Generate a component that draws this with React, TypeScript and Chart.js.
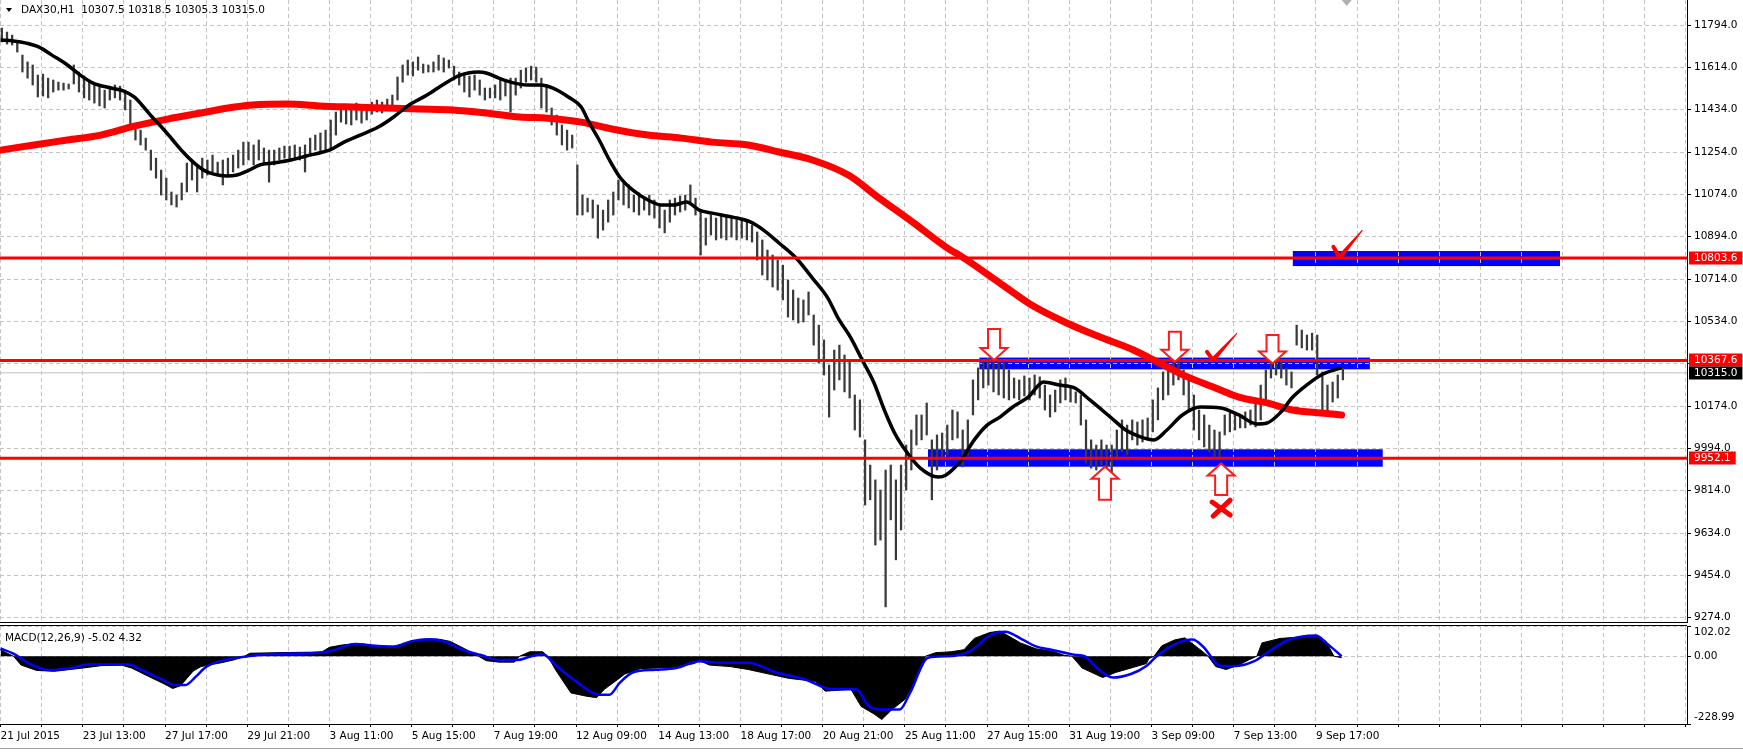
import React, { useEffect, useRef } from "react";
import { Chart, registerables } from "chart.js";

Chart.register(...registerables);

const FONT_FAMILY = "'DejaVu Sans', 'Liberation Sans', sans-serif";
const FONT_SIZE = 10.5;

// ---------- x axis: hour index of H1 bars ----------
const xTickLabels = [
  "21 Jul 2015", "23 Jul 13:00", "27 Jul 17:00", "29 Jul 21:00", "3 Aug 11:00",
  "5 Aug 15:00", "7 Aug 19:00", "12 Aug 09:00", "14 Aug 13:00", "18 Aug 17:00",
  "20 Aug 21:00", "25 Aug 11:00", "27 Aug 15:00", "31 Aug 19:00", "3 Sep 09:00",
  "7 Sep 13:00", "9 Sep 17:00",
];
const hoursPerLabel = 32;
const hoursPerGrid = 16;
const xMin = -0.23;
const xMax = 656.44;
const shiftMarkerHour = 524;

// ---------- price axis ----------
const priceTicks = [9274, 9454, 9634, 9814, 9994, 10174, 10354, 10534, 10714, 10894, 11074, 11254, 11434, 11614, 11794];
const priceMin = 9255.7;
const priceMax = 11900.3;

// ---------- price bars (2-hour groups, high / low) ----------
const hoursPerBar = 2;
const barHigh = [
  11781, 11764, 11751, 11722, 11666, 11637, 11624, 11581,
  11585, 11568, 11560, 11551, 11547, 11543, 11624, 11594,
  11577, 11560, 11543, 11534, 11517, 11534, 11539, 11534,
  11509, 11475, 11369, 11347, 11313, 11262, 11228, 11177,
  11143, 11084, 11071, 11122, 11207, 11220, 11199, 11228,
  11220, 11241, 11211, 11220, 11228, 11241, 11262, 11296,
  11296, 11284, 11305, 11271, 11262, 11262, 11271, 11279,
  11279, 11284, 11275, 11284, 11313, 11326, 11335, 11347,
  11390, 11424, 11454, 11441, 11445, 11462, 11454, 11450,
  11466, 11475, 11466, 11479, 11496, 11573, 11624, 11645,
  11637, 11658, 11628, 11624, 11637, 11666, 11654, 11645,
  11619, 11594, 11581, 11577, 11581, 11560, 11526, 11526,
  11539, 11568, 11560, 11568, 11568, 11602, 11611, 11619,
  11615, 11568, 11539, 11441, 11411, 11369, 11347, 11326,
  11199, 11071, 11058, 11050, 11029, 11007, 11050, 11084,
  11135, 11126, 11114, 11071, 11080, 11063, 11071, 11050,
  11029, 11007, 11050, 11058, 11067, 11071, 11114, 11058,
  11007, 10973, 10986, 10973, 10986, 10977, 10973, 10965,
  10965, 10956, 10943, 10914, 10880, 10837, 10816, 10795,
  10773, 10710, 10667, 10633, 10625, 10659, 10561, 10518,
  10455, 10348, 10412, 10433, 10391, 10370, 10221, 10200,
  10030, 9923, 9860, 9817, 9902, 9923, 9860, 9923,
  10008, 10072, 10136, 10136, 10187, 10030, 10051, 10059,
  10093, 10157, 10149, 10072, 10115, 10285, 10336, 10361,
  10378, 10370, 10361, 10357, 10327, 10293, 10285, 10302,
  10293, 10306, 10298, 10263, 10221, 10242, 10285, 10293,
  10251, 10234, 10221, 10115, 10030, 10008, 10030, 10008,
  10008, 10072, 10115, 10093, 10115, 10106, 10115, 10123,
  10200, 10251, 10319, 10336, 10370, 10382, 10327, 10285,
  10221, 10157, 10136, 10093, 10072, 10064, 10136, 10144,
  10140, 10136, 10149, 10157, 10200, 10263, 10327, 10370,
  10378, 10361, 10336, 10319, 10518, 10497, 10476, 10484,
  10476, 10319, 10263, 10276, 10306, 10336,
];
const barLow = [
  11722, 11713, 11709, 11679, 11594, 11568, 11539, 11488,
  11492, 11484, 11509, 11517, 11517, 11522, 11543, 11509,
  11484, 11475, 11462, 11450, 11441, 11475, 11484, 11475,
  11433, 11356, 11305, 11284, 11262, 11177, 11143, 11071,
  11050, 11029, 11020, 11050, 11084, 11135, 11084, 11143,
  11156, 11169, 11152, 11114, 11156, 11169, 11186, 11199,
  11220, 11199, 11220, 11207, 11126, 11199, 11220, 11228,
  11220, 11228, 11220, 11169, 11241, 11262, 11254, 11262,
  11262, 11326, 11381, 11373, 11369, 11390, 11377, 11390,
  11415, 11424, 11420, 11433, 11441, 11475, 11551, 11581,
  11577, 11602, 11590, 11594, 11594, 11602, 11594, 11611,
  11560, 11539, 11509, 11488, 11517, 11496, 11475, 11484,
  11484, 11475, 11492, 11424, 11496, 11526, 11551, 11560,
  11551, 11441, 11424, 11369, 11326, 11284, 11262, 11271,
  10986, 10986, 10999, 10973, 10888, 10922, 10956, 10986,
  11050, 11029, 11016, 10999, 10986, 11007, 10986, 10973,
  10931, 10910, 10956, 10986, 10999, 11007, 11029, 10986,
  10816, 10858, 10901, 10880, 10888, 10880, 10892, 10880,
  10888, 10880, 10871, 10795, 10731, 10710, 10680, 10667,
  10625, 10552, 10540, 10527, 10531, 10561, 10433, 10357,
  10306, 10127, 10242, 10285, 10234, 10208, 10072, 10042,
  9753, 9775, 9583, 9604, 9320, 9690, 9520, 9647,
  9817, 9902, 10008, 10030, 10051, 9775, 9902, 9953,
  9966, 10030, 10038, 9915, 9966, 10136, 10200, 10251,
  10263, 10234, 10221, 10208, 10200, 10208, 10200, 10217,
  10200, 10221, 10208, 10157, 10127, 10149, 10187, 10200,
  10191, 10187, 10093, 9932, 9910, 9902, 9923, 9902,
  9876, 9953, 9979, 9966, 10030, 10008, 10021, 10030,
  10064, 10115, 10200, 10221, 10263, 10285, 10221, 10157,
  10072, 10030, 10000, 9979, 9953, 9953, 10051, 10064,
  10072, 10081, 10081, 10093, 10085, 10115, 10200, 10293,
  10306, 10293, 10263, 10251, 10433, 10421, 10412, 10412,
  10306, 10157, 10149, 10191, 10208, 10285,
];

// ---------- moving averages ----------
const maFastHours = [0, 5, 10, 15, 20, 26, 31, 36, 43, 48, 52, 55, 59, 63, 67, 71, 75, 79, 83, 88, 92, 96, 101, 106, 113, 119, 124, 128, 133, 140, 147, 153, 159, 166, 172, 178, 182, 186, 189, 194, 200, 205, 210, 215, 221, 226, 229, 233, 237, 241, 246, 252, 257, 262, 267, 272, 277, 285, 292, 297, 303, 310, 316, 322, 326, 331, 335, 340, 344, 348, 353, 358, 365, 368, 374, 379, 384, 389, 394, 400, 406, 412, 418, 424, 432, 438, 444, 449, 454, 460, 467, 475, 482, 489, 493, 498, 503, 509, 514, 519, 522];
const maFastValues = [11730, 11726, 11717, 11700, 11666, 11624, 11581, 11547, 11526, 11513, 11488, 11454, 11403, 11356, 11305, 11254, 11211, 11177, 11160, 11152, 11156, 11173, 11199, 11207, 11220, 11237, 11250, 11262, 11292, 11326, 11360, 11403, 11454, 11496, 11539, 11577, 11590, 11594, 11590, 11568, 11547, 11539, 11539, 11526, 11488, 11445, 11381, 11305, 11220, 11148, 11093, 11050, 11029, 11029, 11041, 11007, 10994, 10977, 10956, 10922, 10867, 10799, 10718, 10633, 10548, 10463, 10378, 10272, 10157, 10059, 9974, 9910, 9872, 9881, 9945, 10030, 10093, 10127, 10170, 10212, 10276, 10263, 10251, 10200, 10127, 10072, 10042, 10030, 10072, 10136, 10170, 10166, 10136, 10098, 10102, 10144, 10212, 10268, 10306, 10327, 10336];
const maSlowHours = [0, 13, 26, 39, 52, 65, 78, 91, 98, 112, 124, 137, 150, 163, 176, 189, 202, 213, 226, 238, 252, 265, 277, 291, 303, 316, 330, 342, 355, 368, 375, 389, 402, 415, 428, 441, 451, 462, 472, 482, 493, 503, 514, 522];
const maSlowValues = [11262, 11284, 11305, 11326, 11364, 11394, 11420, 11445, 11454, 11458, 11450, 11445, 11441, 11437, 11433, 11420, 11403, 11398, 11381, 11352, 11326, 11313, 11296, 11284, 11254, 11220, 11156, 11058, 10956, 10850, 10803, 10697, 10599, 10527, 10467, 10412, 10357, 10298, 10255, 10212, 10187, 10157, 10144, 10136];

// ---------- drawn objects ----------
const levels = [10803.6, 10367.6, 9952.1];
const currentPrice = 10315.0;
const zoneStart = [503, 381, 361];
const zoneEnd = [607, 533, 538];
const zoneLow = [10769, 10330, 9916];
const zoneHigh = [10833, 10380, 9990];
const arrowHour = [386.7, 457.1, 495.1, 429.9, 475.1];
const arrowTip = [10370, 10362, 10355, 9916, 9930];
const arrowTail = [10501, 10490, 10476, 9775, 9796];
const checkHours = [[469.6, 471.9, 481.3], [518.8, 521.2, 530.1]];
const checkPrices = [[10404, 10370, 10484], [10851, 10806, 10922]];
const crossHour = [475.1];
const crossPrice = [9740];

// ---------- MACD(12,26,9) ----------
const macdMin = -228.99;
const macdMax = 102.02;
const macdTicks = [-228.99, 0, 102.02];
const macdHours = [0, 5, 8, 14, 21, 27, 32, 39, 47, 51, 58, 64, 67, 70, 72, 75, 78, 86, 91, 95, 97, 108, 125, 128, 133, 139, 146, 153, 160, 165, 171, 175, 180, 185, 186, 189, 194, 200, 202, 206, 211, 213, 216, 222, 228, 232, 235, 240, 243, 249, 261, 270, 272, 276, 284, 291, 300, 307, 317, 321, 331, 335, 340, 343, 347, 352, 355, 359, 360, 364, 370, 375, 379, 385, 389, 393, 397, 403, 409, 414, 417, 421, 426, 429, 434, 440, 446, 447, 449, 452, 457, 461, 465, 468, 470, 473, 477, 482, 486, 489, 491, 498, 506, 513, 516, 519, 522];
const macdValues = [21, 0, -30, -48, -51, -45, -40, -32, -30, -40, -70, -95, -109, -100, -80, -50, -35, -22, -12, 0, 10, 12, 14, 30, 38, 43, 35, 34, 48, 58, 57, 50, 28, 5, 0, -15, -20, -20, 0, 15, 15, 0, -46, -124, -135, -140, -112, -80, -60, -42, -38, -25, -15, -30, -35, -45, -62, -75, -85, -118, -112, -170, -195, -214, -180, -146, -100, -30, 0, 12, 15, 22, 60, 80, 85, 65, 45, 25, 18, 3, 0, -40, -60, -72, -55, -40, -25, -8, 0, 35, 55, 62, 35, 15, 0, -35, -45, -30, -12, 0, 45, 60, 65, 68, 50, 0, -5];
const signalHours = [0, 5, 11, 19, 27, 34, 41, 50, 55, 62, 68, 72, 76, 80, 87, 95, 104, 118, 128, 138, 146, 153, 160, 167, 173, 180, 187, 194, 201, 206, 211, 216, 224, 233, 237, 241, 246, 255, 263, 272, 280, 291, 302, 313, 324, 333, 338, 343, 350, 354, 361, 369, 378, 385, 391, 398, 403, 409, 418, 422, 426, 433, 440, 446, 450, 457, 464, 468, 475, 481, 488, 494, 501, 512, 516, 522];
const signalValues = [26, 9, -24, -47, -41, -28, -28, -28, -47, -75, -97, -97, -69, -36, -13, -2, 7, 9, 17, 41, 35, 32, 51, 57, 49, 21, 4, -13, -13, -2, 7, -30, -85, -130, -130, -90, -55, -46, -40, -17, -22, -22, -55, -78, -112, -112, -169, -180, -180, -124, -5, 0, 20, 70, 83, 55, 33, 22, 5, 0, -34, -72, -60, -33, 0, 40, 56, 33, -33, -33, -17, 17, 54, 70, 45, 0];

// ---------- styles ----------
const GRID_COLOR = "#c4c4c4";
const GRID_DASH = [4, 3];
const AXIS_WIDTH = 56;

const gridHours: number[] = [];
for (let h = 0; h <= xMax; h += hoursPerGrid) gridHours.push(h);

const pairs = (xs: number[], ys: number[]) => xs.map((x, i) => ({ x, y: ys[i] }));

function drawArrow(ctx: CanvasRenderingContext2D, cx: number, tipY: number, tailY: number) {
  const dir = tipY > tailY ? 1 : -1;
  const headLen = 12;
  const headHalf = 13.5;
  const shaftHalf = 6;
  const baseY = tipY - dir * headLen;
  ctx.beginPath();
  ctx.moveTo(cx - shaftHalf, tailY);
  ctx.lineTo(cx + shaftHalf, tailY);
  ctx.lineTo(cx + shaftHalf, baseY);
  ctx.lineTo(cx + headHalf, baseY);
  ctx.lineTo(cx, tipY);
  ctx.lineTo(cx - headHalf, baseY);
  ctx.lineTo(cx - shaftHalf, baseY);
  ctx.closePath();
  ctx.fillStyle = "#ffffff";
  ctx.fill();
  ctx.lineJoin = "miter";
  ctx.strokeStyle = "#ff1a1a";
  ctx.lineWidth = 2;
  ctx.stroke();
}

function drawCheck(ctx: CanvasRenderingContext2D, p: { x: number; y: number }[]) {
  ctx.strokeStyle = "#ff0000";
  ctx.fillStyle = "#ff0000";
  ctx.lineCap = "round";
  ctx.lineWidth = 4;
  ctx.beginPath();
  ctx.moveTo(p[0].x, p[0].y);
  ctx.lineTo(p[1].x, p[1].y);
  ctx.stroke();
  const dx = p[2].x - p[1].x;
  const dy = p[2].y - p[1].y;
  const len = Math.hypot(dx, dy) || 1;
  const nx = -dy / len;
  const ny = dx / len;
  ctx.beginPath();
  ctx.moveTo(p[1].x + nx * 2.4, p[1].y + ny * 2.4);
  ctx.lineTo(p[2].x + nx * 0.5, p[2].y + ny * 0.5);
  ctx.lineTo(p[2].x - nx * 0.5, p[2].y - ny * 0.5);
  ctx.lineTo(p[1].x - nx * 2.4, p[1].y - ny * 2.4);
  ctx.closePath();
  ctx.fill();
}

function drawCross(ctx: CanvasRenderingContext2D, cx: number, cy: number) {
  ctx.strokeStyle = "#ff0000";
  ctx.lineWidth = 5;
  ctx.lineCap = "round";
  ctx.beginPath();
  ctx.moveTo(cx - 9, cy - 6);
  ctx.lineTo(cx + 9, cy + 7);
  ctx.moveTo(cx + 9, cy - 8);
  ctx.lineTo(cx - 8, cy + 8);
  ctx.stroke();
}

function drawTag(ctx: CanvasRenderingContext2D, left: number, yPix: number, text: string, bg: string) {
  ctx.font = `${FONT_SIZE}px ${FONT_FAMILY}`;
  const w = ctx.measureText(text).width;
  const yc = Math.round(yPix);
  ctx.fillStyle = bg;
  ctx.fillRect(left + 2, yc - 6.5, w + 10, 13);
  ctx.fillStyle = "#ffffff";
  ctx.textAlign = "left";
  ctx.textBaseline = "middle";
  ctx.fillText(text, left + 7, yc + 0.5);
}

const zonesPlugin = {
  id: "zones",
  beforeDraw(chart: any) {
    const { ctx, chartArea } = chart;
    const xs = chart.scales.x;
    const ys = chart.scales.y;
    ctx.save();
    ctx.beginPath();
    ctx.rect(chartArea.left, chartArea.top, chartArea.right - chartArea.left, chartArea.bottom - chartArea.top);
    ctx.clip();
    ctx.fillStyle = "#0000ff";
    zoneStart.forEach((s, i) => {
      const x1 = xs.getPixelForValue(s);
      const x2 = xs.getPixelForValue(zoneEnd[i]);
      const y1 = ys.getPixelForValue(zoneHigh[i]);
      const y2 = ys.getPixelForValue(zoneLow[i]);
      ctx.fillRect(x1, y1, x2 - x1, y2 - y1);
    });
    ctx.restore();
  },
};

const marksPlugin = {
  id: "marks",
  afterDatasetsDraw(chart: any) {
    const { ctx } = chart;
    const xs = chart.scales.x;
    const ys = chart.scales.y;
    ctx.save();
    arrowHour.forEach((h, i) => {
      drawArrow(ctx, xs.getPixelForValue(h), ys.getPixelForValue(arrowTip[i]), ys.getPixelForValue(arrowTail[i]));
    });
    checkHours.forEach((hs, i) => {
      drawCheck(ctx, hs.map((h, j) => ({ x: xs.getPixelForValue(h), y: ys.getPixelForValue(checkPrices[i][j]) })));
    });
    crossHour.forEach((h, i) => drawCross(ctx, xs.getPixelForValue(h), ys.getPixelForValue(crossPrice[i])));
    // chart-shift marker at the top border
    const mx = xs.getPixelForValue(shiftMarkerHour);
    ctx.fillStyle = "#b0b0b0";
    ctx.beginPath();
    ctx.moveTo(mx - 5, 0);
    ctx.lineTo(mx + 5, 0);
    ctx.lineTo(mx, 6);
    ctx.closePath();
    ctx.fill();
    ctx.restore();
  },
};

const priceTagsPlugin = {
  id: "priceTags",
  afterDraw(chart: any) {
    const { ctx, chartArea } = chart;
    const ys = chart.scales.y;
    ctx.save();
    levels.forEach((l) => drawTag(ctx, chartArea.right, ys.getPixelForValue(l), l.toFixed(1), "#ff0000"));
    drawTag(ctx, chartArea.right, ys.getPixelForValue(currentPrice), currentPrice.toFixed(1), "#000000");
    ctx.restore();
  },
};

const macdFramePlugin = {
  id: "macdFrame",
  afterDraw(chart: any) {
    const { ctx, chartArea } = chart;
    ctx.save();
    ctx.strokeStyle = "#000000";
    ctx.lineWidth = 1;
    ctx.beginPath();
    ctx.moveTo(0, chartArea.top - 0.5);
    ctx.lineTo(chartArea.right, chartArea.top - 0.5);
    ctx.stroke();
    ctx.restore();
  },
};

const xGridScale = (showLabels: boolean) => ({
  type: "linear",
  min: xMin,
  max: xMax,
  offset: false,
  afterBuildTicks: (s: any) => {
    s.ticks = gridHours.map((v) => ({ value: v }));
  },
  afterFit: (s: any) => {
    s.height = showLabels ? 29 : 1;
    s.paddingLeft = 0;
    s.paddingRight = 0;
  },
  grid: {
    offset: false,
    color: GRID_COLOR,
    drawTicks: showLabels,
    tickLength: 3,
    tickColor: "#000000",
    tickBorderDash: [],
  },
  border: { display: true, color: "#000000", width: 1, dash: GRID_DASH },
  ticks: {
    display: showLabels,
    autoSkip: false,
    maxRotation: 0,
    minRotation: 0,
    align: "start",
    padding: 3,
    color: "#000000",
    font: { family: FONT_FAMILY, size: FONT_SIZE },
    callback: (v: any) => {
      const n = Number(v);
      return n % hoursPerLabel === 0 ? xTickLabels[n / hoursPerLabel] ?? "" : "";
    },
  },
});

export default function App() {
  const mainRef = useRef<HTMLCanvasElement>(null);
  const macdRef = useRef<HTMLCanvasElement>(null);

  useEffect(() => {
    const bars = barHigh.map((h, i) => ({ x: i * hoursPerBar + 0.5, y: [barLow[i], h] }));
    const main = new Chart(mainRef.current as HTMLCanvasElement, {
      type: "bar",
      data: {
        datasets: [
          {
            type: "line",
            data: [{ x: xMin, y: currentPrice }, { x: xMax, y: currentPrice }],
            borderColor: "#c0c0c0",
            borderWidth: 1,
            pointRadius: 0,
            order: 10,
          },
          {
            type: "bar",
            data: bars,
            backgroundColor: "#3a3a3a",
            borderWidth: 0,
            barThickness: 1.6,
            order: 9,
          },
          {
            type: "line",
            data: pairs(maSlowHours, maSlowValues),
            borderColor: "#ff0000",
            borderWidth: 7,
            pointRadius: 0,
            cubicInterpolationMode: "monotone",
            borderCapStyle: "round",
            order: 8,
          },
          {
            type: "line",
            data: pairs(maFastHours, maFastValues),
            borderColor: "#000000",
            borderWidth: 3.5,
            pointRadius: 0,
            cubicInterpolationMode: "monotone",
            order: 7,
          },
          ...levels.map((l) => ({
            type: "line",
            data: [{ x: xMin, y: l }, { x: xMax, y: l }],
            borderColor: "#ff0000",
            borderWidth: 3,
            pointRadius: 0,
            order: 6,
          })),
        ],
      } as any,
      options: {
        responsive: false,
        animation: false,
        events: [],
        devicePixelRatio: 1,
        layout: { padding: 0 },
        plugins: { legend: { display: false }, tooltip: { enabled: false }, title: { display: false } },
        scales: {
          x: xGridScale(false) as any,
          y: {
            type: "linear",
            position: "right",
            min: priceMin,
            max: priceMax,
            afterBuildTicks: (s: any) => {
              s.ticks = priceTicks.map((v) => ({ value: v }));
            },
            afterFit: (s: any) => {
              s.width = AXIS_WIDTH;
              s.paddingTop = 0;
              s.paddingBottom = 0;
            },
            grid: { color: GRID_COLOR, tickLength: 4, tickColor: "#000000", tickBorderDash: [] },
            border: { display: true, color: "#000000", width: 1, dash: GRID_DASH },
            ticks: {
              autoSkip: false,
              padding: 3,
              color: "#000000",
              font: { family: FONT_FAMILY, size: FONT_SIZE },
              callback: (v: any) => Number(v).toFixed(1),
            },
          } as any,
        },
      },
      plugins: [zonesPlugin, marksPlugin, priceTagsPlugin],
    });

    const macd = new Chart(macdRef.current as HTMLCanvasElement, {
      type: "line",
      data: {
        datasets: [
          {
            data: pairs(signalHours, signalValues),
            borderColor: "#0000ff",
            borderWidth: 2.5,
            pointRadius: 0,
            fill: false,
            cubicInterpolationMode: "monotone",
            order: 1,
          },
          {
            data: pairs(macdHours, macdValues),
            borderColor: "#000000",
            backgroundColor: "#000000",
            borderWidth: 1,
            pointRadius: 0,
            fill: "origin",
            order: 2,
          },
        ],
      } as any,
      options: {
        responsive: false,
        animation: false,
        events: [],
        devicePixelRatio: 1,
        layout: { padding: { top: 4, left: 0, right: 0, bottom: 0 } },
        plugins: { legend: { display: false }, tooltip: { enabled: false } },
        scales: {
          x: xGridScale(true) as any,
          y: {
            type: "linear",
            position: "right",
            min: macdMin,
            max: macdMax,
            afterBuildTicks: (s: any) => {
              s.ticks = macdTicks.map((v) => ({ value: v }));
            },
            afterFit: (s: any) => {
              s.width = AXIS_WIDTH;
              s.paddingTop = 0;
              s.paddingBottom = 0;
            },
            grid: { color: GRID_COLOR, tickLength: 4, tickColor: "#000000", tickBorderDash: [] },
            border: { display: true, color: "#000000", width: 1, dash: GRID_DASH },
            ticks: {
              autoSkip: false,
              padding: 3,
              color: "#000000",
              font: { family: FONT_FAMILY, size: FONT_SIZE },
              callback: (v: any) => {
                const n = Number(v);
                const t = n.toFixed(2);
                if (n === macdMax) return ["", t];
                if (n === macdMin) return [t, ""];
                return t;
              },
            },
          } as any,
        },
      },
      plugins: [macdFramePlugin],
    });

    return () => {
      main.destroy();
      macd.destroy();
    };
  }, []);

  const textStyle: React.CSSProperties = {
    position: "absolute",
    fontFamily: FONT_FAMILY,
    fontSize: FONT_SIZE,
    lineHeight: "13px",
    whiteSpace: "pre",
    color: "#000000",
  };

  return (
    <div style={{ position: "fixed", left: 0, top: 0, width: 1743, height: 753, background: "#ffffff", overflow: "hidden" }}>
      <canvas ref={mainRef} width={1743} height={623} style={{ position: "absolute", left: 0, top: 0, display: "block" }} />
      <canvas ref={macdRef} width={1743} height={131} style={{ position: "absolute", left: 0, top: 622, display: "block" }} />
      <div
        style={{
          position: "absolute",
          left: 6,
          top: 8,
          width: 0,
          height: 0,
          borderLeft: "3px solid transparent",
          borderRight: "3px solid transparent",
          borderTop: "4px solid #000",
        }}
      />
      <div style={{ ...textStyle, left: 21, top: 3 }}>{"DAX30,H1  10307.5 10318.5 10305.3 10315.0"}</div>
      <div style={{ ...textStyle, left: 5, top: 631 }}>{"MACD(12,26,9) -5.02 4.32"}</div>
      <div style={{ position: "absolute", left: 0, top: 748, width: 1743, height: 1, background: "#a0a0a0" }} />
    </div>
  );
}
